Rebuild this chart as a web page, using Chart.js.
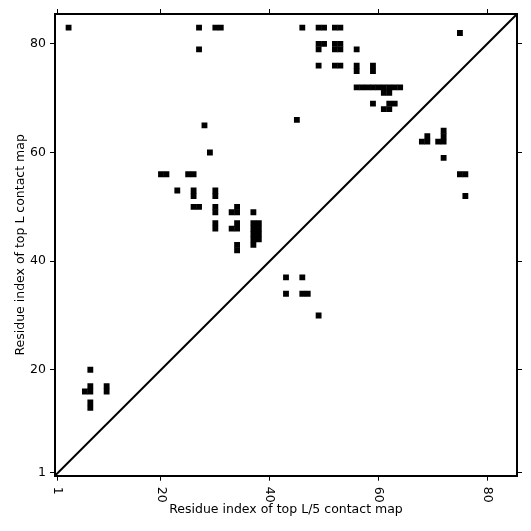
<!DOCTYPE html>
<html>
<head>
<meta charset="utf-8">
<script src="https://cdn.jsdelivr.net/npm/chart.js@4.4.1/dist/chart.umd.min.js"></script>
<style>
  html, body { margin: 0; padding: 0; background: #fff; }
</style>
</head>
<body>
<canvas id="chart" width="531" height="531"></canvas>
<script>
// residue range and ticks
const axisMin = 0.5;
const axisMax = 85.5;
const tickValues = [1, 20, 40, 60, 80];

// contacts above the diagonal [x, y]
const upperCells = [
  [3, 83], [27, 83], [30, 83], [31, 83], [46, 83], [49, 83], [50, 83], [52, 83], [53, 83],
  [75, 82],
  [49, 80], [50, 80], [52, 80], [53, 80],
  [27, 79], [49, 79], [52, 79], [53, 79], [56, 79],
  [49, 76], [52, 76], [53, 76], [56, 76], [59, 76],
  [56, 75], [59, 75],
  [56, 72], [57, 72], [58, 72], [59, 72], [60, 72], [61, 72], [62, 72], [63, 72], [64, 72],
  [61, 71], [62, 71],
  [59, 69], [62, 69], [63, 69],
  [61, 68], [62, 68],
  [45, 66], [28, 65], [29, 60],
  [20, 56], [21, 56], [25, 56], [26, 56],
  [23, 53], [26, 53], [30, 53],
  [26, 52], [30, 52],
  [26, 50], [27, 50], [30, 50], [34, 50],
  [30, 49], [33, 49], [34, 49], [37, 49],
  [30, 47], [34, 47], [37, 47], [38, 47],
  [30, 46], [33, 46], [34, 46], [37, 46], [38, 46],
  [37, 45], [38, 45],
  [37, 44], [38, 44],
  [34, 43], [37, 43],
  [34, 42],
  [7, 20], [7, 17], [10, 17], [6, 16], [7, 16], [10, 16], [7, 14], [7, 13]
];

// contacts below the diagonal [x, y]
const lowerCells = [
  [43, 37], [46, 37], [43, 34], [46, 34], [47, 34], [49, 30],
  [72, 64], [69, 63], [72, 63], [68, 62], [69, 62], [71, 62], [72, 62],
  [72, 59], [75, 56], [76, 56], [76, 52]
];

const diagonal = [[axisMin, axisMin], [axisMax, axisMax]];

Chart.defaults.font.family = '"DejaVu Sans", sans-serif';
Chart.defaults.color = '#000';

const toPoints = cells => cells.map(c => ({ x: c[0], y: c[1] }));

// square side = one residue on the x scale
const cellRadius = ctx => {
  const s = ctx.chart.scales.x;
  const unit = Math.abs(s.getPixelForValue(1) - s.getPixelForValue(0));
  return (unit + 0.4) / Math.SQRT2;
};

const setTicks = axis => { axis.ticks = tickValues.map(v => ({ value: v })); };
const tickGrid = { drawOnChartArea: false, drawTicks: true, tickLength: 5, tickWidth: 1, tickColor: '#000' };
const frame = { display: true, color: '#000', width: 2 };

// x tick labels read top to bottom
const rotatedXLabels = {
  id: 'rotatedXLabels',
  afterDraw(chart) {
    const s = chart.scales.x;
    const ctx = chart.ctx;
    ctx.save();
    ctx.font = '12.5px "DejaVu Sans"';
    ctx.fillStyle = '#000';
    ctx.textAlign = 'left';
    ctx.textBaseline = 'middle';
    tickValues.forEach(v => {
      ctx.save();
      ctx.translate(s.getPixelForValue(v), s.top + 11);
      ctx.rotate(Math.PI / 2);
      ctx.fillText(String(v), 0, 0);
      ctx.restore();
    });
    ctx.restore();
  }
};

new Chart(document.getElementById('chart'), {
  type: 'scatter',
  data: {
    datasets: [
      {
        data: toPoints(upperCells.concat(lowerCells)),
        pointStyle: 'rect',
        backgroundColor: '#000',
        borderWidth: 0,
        pointRadius: cellRadius,
        pointHoverRadius: cellRadius
      },
      {
        type: 'line',
        data: toPoints(diagonal),
        borderColor: '#000',
        borderWidth: 2,
        pointRadius: 0,
        fill: false
      }
    ]
  },
  options: {
    responsive: false,
    animation: false,
    events: [],
    layout: { padding: 0 },
    plugins: { legend: { display: false }, tooltip: { enabled: false } },
    scales: {
      x: {
        type: 'linear', position: 'bottom', min: axisMin, max: axisMax,
        afterBuildTicks: setTicks,
        afterFit: a => { a.height = 55.3; },
        ticks: { display: false },
        grid: tickGrid,
        border: frame,
        title: {
          display: true, text: 'Residue index of top L/5 contact map',
          font: { size: 12.5 }, color: '#000', padding: { top: 0, bottom: 13.5 }
        }
      },
      y: {
        type: 'linear', position: 'left', min: axisMin, max: axisMax,
        afterBuildTicks: setTicks,
        afterFit: a => { a.width = 55; },
        ticks: { font: { size: 12.5 }, color: '#000', padding: 4, callback: v => String(v) },
        grid: tickGrid,
        border: frame,
        title: {
          display: true, text: 'Residue index of top L contact map',
          font: { size: 12.5 }, color: '#000', padding: { top: 13.5, bottom: 0 }
        }
      },
      x2: {
        type: 'linear', axis: 'x', position: 'top', min: axisMin, max: axisMax,
        afterBuildTicks: setTicks,
        afterFit: a => { a.height = 14; },
        ticks: { display: false },
        grid: tickGrid,
        border: frame
      },
      y2: {
        type: 'linear', axis: 'y', position: 'right', min: axisMin, max: axisMax,
        afterBuildTicks: setTicks,
        afterFit: a => { a.width = 14; },
        ticks: { display: false },
        grid: tickGrid,
        border: frame
      }
    }
  },
  plugins: [rotatedXLabels]
});
</script>
</body>
</html>
